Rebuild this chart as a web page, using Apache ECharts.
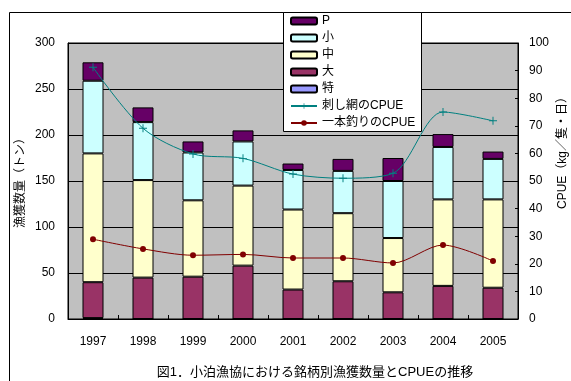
<!DOCTYPE html>
<html>
<head>
<meta charset="utf-8">
<script src="https://cdn.jsdelivr.net/npm/echarts@6/dist/echarts.min.js"></script>
<style>
  html, body { margin: 0; padding: 0; background: #fff; }
  #chart { width: 571px; height: 381px; }
</style>
</head>
<body>
<div id="chart"></div>
<script>
// 年別・銘柄別の漁獲数量（トン）
const years = ['1997', '1998', '1999', '2000', '2001', '2002', '2003', '2004', '2005'];
const catchToku = [1, 0, 0, 0, 0, 0, 0, 0, 0];
const catchDai  = [39, 45, 46, 58, 32, 41, 29, 36, 34];
const catchChu  = [140, 106, 83, 87, 87, 74, 59, 94, 96];
const catchSho  = [79, 63, 52, 48, 43, 46, 62, 57, 44];
const catchP    = [20, 16, 12, 12, 7, 13, 25, 14, 8];

// CPUE（kg／隻・日）
const cpueGillnet = [91.2, 69.1, 59.8, 58.2, 52.5, 51.0, 52.8, 75.0, 71.8];
const cpueHandline = [28.9, 25.4, 23.1, 23.4, 22.1, 22.1, 20.3, 26.8, 21.0];

// 軸目盛
const leftTicks = { min: 0, max: 300, interval: 50 };
const rightTicks = { min: 0, max: 100, interval: 10 };

const FONT = '"Liberation Sans", "Noto Sans CJK JP", sans-serif';
const plusPath = 'path://M4.4,0H5.6V4.4H10V5.6H5.6V10H4.4V5.6H0V4.4H4.4Z';

function barSeries(name, data, color) {
  return {
    name: name,
    type: 'bar',
    stack: 'catch',
    data: data,
    barWidth: 21,
    itemStyle: { color: color, borderColor: '#000', borderWidth: 1 },
    emphasis: { disabled: true },
    z: 2
  };
}

const chart = echarts.init(document.getElementById('chart'), null, { renderer: 'canvas' });

chart.setOption({
  animation: false,
  backgroundColor: '#fff',
  textStyle: { fontFamily: FONT, color: '#000' },
  grid: {
    left: 68, right: 53, top: 43, bottom: 62,
    show: true, backgroundColor: '#c0c0c0', borderColor: '#000', borderWidth: 1
  },
  legend: {
    orient: 'vertical',
    left: 290, top: 14,
    padding: 0,
    itemGap: 3,
    itemWidth: 26,
    itemHeight: 7,
    z: 12,
    textStyle: { fontFamily: FONT, fontSize: 12, color: '#000', lineHeight: 14 },
    data: ['P', '小', '中', '大', '特', '刺し網のCPUE', '一本釣りのCPUE']
  },
  xAxis: {
    type: 'category',
    data: years,
    boundaryGap: true,
    axisLine: { lineStyle: { color: '#000', width: 1 } },
    axisTick: { show: true, inside: true, length: 4, lineStyle: { color: '#000' } },
    axisLabel: { margin: 17, fontSize: 12, color: '#000', fontFamily: FONT },
    splitLine: { show: false }
  },
  yAxis: [
    {
      type: 'value',
      min: leftTicks.min, max: leftTicks.max, interval: leftTicks.interval,
      axisLine: { show: true, lineStyle: { color: '#000' } },
      axisTick: { show: false },
      axisLabel: { margin: 13, fontSize: 12, color: '#000', fontFamily: FONT },
      splitLine: { show: true, lineStyle: { color: '#000', width: 1 } }
    },
    {
      type: 'value',
      min: rightTicks.min, max: rightTicks.max, interval: rightTicks.interval,
      position: 'right',
      axisLine: { show: true, lineStyle: { color: '#000' } },
      axisTick: { show: true, inside: true, length: 3, lineStyle: { color: '#000' } },
      axisLabel: { margin: 11, fontSize: 12, color: '#000', fontFamily: FONT },
      splitLine: { show: false }
    }
  ],
  series: [
    barSeries('特', catchToku, '#9999ff'),
    barSeries('大', catchDai, '#993366'),
    barSeries('中', catchChu, '#ffffcc'),
    barSeries('小', catchSho, '#ccffff'),
    barSeries('P', catchP, '#660066'),
    {
      name: '刺し網のCPUE',
      type: 'line',
      yAxisIndex: 1,
      data: cpueGillnet,
      smooth: 0.3,
      symbol: plusPath,
      symbolSize: 8,
      showAllSymbol: true,
      lineStyle: { color: '#008080', width: 1 },
      itemStyle: { color: '#008080' },
      emphasis: { disabled: true },
      z: 5
    },
    {
      name: '一本釣りのCPUE',
      type: 'line',
      yAxisIndex: 1,
      data: cpueHandline,
      smooth: 0.3,
      symbol: 'circle',
      symbolSize: 6,
      showAllSymbol: true,
      lineStyle: { color: '#800000', width: 1 },
      itemStyle: { color: '#800000' },
      emphasis: { disabled: true },
      z: 5
    }
  ],
  graphic: [
    {
      type: 'rect', z: 0, silent: true,
      shape: { x: 9.5, y: 12.5, width: 700, height: 500 },
      style: { fill: 'none', stroke: '#000', lineWidth: 1 }
    },
    {
      type: 'rect', z: 10, silent: true,
      shape: { x: 283.5, y: 12.5, width: 138, height: 119 },
      style: { fill: '#fff', stroke: '#000', lineWidth: 1 }
    },
    {
      type: 'text', z: 10, silent: true,
      x: 21, y: 180, rotation: Math.PI / 2,
      style: { text: '漁獲数量（トン）', font: '12px ' + FONT, fill: '#000', align: 'center', verticalAlign: 'middle' }
    },
    {
      type: 'text', z: 10, silent: true,
      x: 563, y: 150, rotation: Math.PI / 2,
      style: { text: 'CPUE（kg／隻・日）', font: '12px ' + FONT, fill: '#000', align: 'center', verticalAlign: 'middle' }
    },
    {
      type: 'text', z: 10, silent: true,
      x: 315, y: 372,
      style: { text: '図1．小泊漁協における銘柄別漁獲数量とCPUEの推移', font: '13px ' + FONT, fill: '#000', align: 'center', verticalAlign: 'middle' }
    }
  ]
});
</script>
</body>
</html>
